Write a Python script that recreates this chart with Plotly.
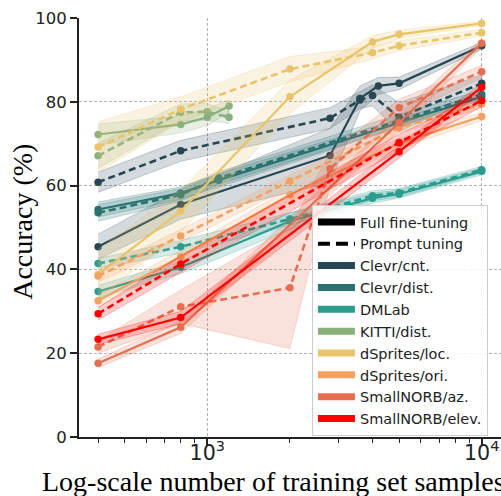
import plotly.graph_objects as go

# ---------------- data ----------------
dataset_names = ["Clevr/cnt.", "Clevr/dist.", "DMLab", "KITTI/dist.",
                 "dSprites/loc.", "dSprites/ori.", "SmallNORB/az.", "SmallNORB/elev."]
dataset_colors = ["#264653", "#287271", "#2a9d8f", "#8ab17d",
                  "#e9c46a", "#f4a261", "#e76f51", "#ff0000"]

# Clevr/cnt.
clevr_cnt_ft_n = [400, 800, 2800, 3600, 4200, 5000, 10000]
clevr_cnt_ft_acc = [45.4, 55.5, 67.2, 80.8, 83.8, 84.4, 93.4]
clevr_cnt_ft_std = [3.0, 3.5, 6.5, 3.0, 2.0, 1.5, 0.8]
clevr_cnt_pt_n = [400, 800, 2800, 3600, 4000, 5000, 10000]
clevr_cnt_pt_acc = [60.8, 68.3, 76.1, 80.4, 81.5, 76.3, 84.4]
clevr_cnt_pt_std = [2.4, 2.5, 2.5, 2.0, 2.5, 3.5, 2.0]

# Clevr/dist.
clevr_dist_ft_n = [400, 800, 1100, 10000]
clevr_dist_ft_acc = [54.3, 58.2, 61.3, 81.2]
clevr_dist_ft_std = [1.8, 1.5, 1.5, 0.8]
clevr_dist_pt_n = [400, 800, 1100, 5000, 10000]
clevr_dist_pt_acc = [53.5, 57.8, 61.8, 75.5, 81.8]
clevr_dist_pt_std = [2.0, 1.5, 1.5, 1.5, 1.0]

# DMLab
dmlab_ft_n = [400, 800, 2000, 4000, 5000, 10000]
dmlab_ft_acc = [34.7, 40.5, 51.5, 57.0, 58.0, 63.4]
dmlab_ft_std = [1.5, 1.5, 2.0, 1.2, 1.0, 0.8]
dmlab_pt_n = [400, 800, 2000, 4000, 5000, 10000]
dmlab_pt_acc = [41.4, 45.4, 52.0, 57.6, 58.3, 63.8]
dmlab_pt_std = [1.2, 1.5, 1.5, 1.2, 1.0, 0.8]

# KITTI/dist.
kitti_ft_n = [400, 800, 1000, 1200]
kitti_ft_acc = [72.2, 74.6, 76.3, 79.0]
kitti_ft_std = [2.5, 2.0, 2.0, 1.5]
kitti_pt_n = [400, 800, 1000, 1200]
kitti_pt_acc = [67.1, 77.5, 77.6, 76.3]
kitti_pt_std = [3.0, 2.0, 2.0, 1.5]

# dSprites/loc.
dspr_loc_ft_n = [400, 800, 2000, 4000, 5000, 10000]
dspr_loc_ft_acc = [38.8, 53.9, 81.2, 94.3, 96.1, 98.7]
dspr_loc_ft_std = [6.0, 5.0, 4.0, 1.5, 1.0, 0.5]
dspr_loc_pt_n = [400, 800, 2000, 4000, 5000, 10000]
dspr_loc_pt_acc = [69.2, 78.2, 87.8, 91.7, 93.4, 96.5]
dspr_loc_pt_std = [6.0, 3.0, 3.0, 1.5, 1.2, 0.8]

# dSprites/ori.
dspr_ori_ft_n = [400, 800, 2000, 5000, 10000]
dspr_ori_ft_acc = [32.5, 43.0, 57.8, 70.1, 76.5]
dspr_ori_ft_std = [1.5, 1.5, 1.5, 1.2, 1.0]
dspr_ori_pt_n = [400, 800, 2000, 5000, 10000]
dspr_ori_pt_acc = [38.4, 48.0, 61.1, 73.8, 79.5]
dspr_ori_pt_std = [1.5, 1.5, 1.5, 1.2, 1.0]

# SmallNORB/az.
norb_az_ft_n = [400, 800, 5000, 10000]
norb_az_ft_acc = [17.6, 26.2, 75.0, 94.0]
norb_az_ft_std = [1.0, 1.5, 2.0, 1.0]
norb_az_pt_n = [400, 800, 2000, 2800, 5000, 10000]
norb_az_pt_acc = [21.5, 31.1, 35.6, 64.0, 78.6, 87.2]
norb_az_pt_std = [1.5, 4.0, 14.5, 4.0, 2.0, 1.5]

# SmallNORB/elev.
norb_elev_ft_n = [400, 800, 5000, 10000]
norb_elev_ft_acc = [23.3, 28.5, 68.1, 83.5]
norb_elev_ft_std = [1.2, 1.5, 1.5, 1.0]
norb_elev_pt_n = [400, 800, 5000, 10000]
norb_elev_pt_acc = [29.4, 41.3, 70.3, 80.3]
norb_elev_pt_std = [1.5, 2.0, 2.0, 1.5]

y_ticks = [0, 20, 40, 60, 80, 100]

# (dataset index, prompt tuning?, n, acc, std)
series = [
    (0, False, clevr_cnt_ft_n, clevr_cnt_ft_acc, clevr_cnt_ft_std),
    (0, True, clevr_cnt_pt_n, clevr_cnt_pt_acc, clevr_cnt_pt_std),
    (1, False, clevr_dist_ft_n, clevr_dist_ft_acc, clevr_dist_ft_std),
    (1, True, clevr_dist_pt_n, clevr_dist_pt_acc, clevr_dist_pt_std),
    (2, False, dmlab_ft_n, dmlab_ft_acc, dmlab_ft_std),
    (2, True, dmlab_pt_n, dmlab_pt_acc, dmlab_pt_std),
    (3, False, kitti_ft_n, kitti_ft_acc, kitti_ft_std),
    (3, True, kitti_pt_n, kitti_pt_acc, kitti_pt_std),
    (4, False, dspr_loc_ft_n, dspr_loc_ft_acc, dspr_loc_ft_std),
    (4, True, dspr_loc_pt_n, dspr_loc_pt_acc, dspr_loc_pt_std),
    (5, False, dspr_ori_ft_n, dspr_ori_ft_acc, dspr_ori_ft_std),
    (5, True, dspr_ori_pt_n, dspr_ori_pt_acc, dspr_ori_pt_std),
    (6, False, norb_az_ft_n, norb_az_ft_acc, norb_az_ft_std),
    (6, True, norb_az_pt_n, norb_az_pt_acc, norb_az_pt_std),
    (7, False, norb_elev_ft_n, norb_elev_ft_acc, norb_elev_ft_std),
    (7, True, norb_elev_pt_n, norb_elev_pt_acc, norb_elev_pt_std),
]


def rgba(hex_color, alpha):
    h = hex_color.lstrip("#")
    r, g, b = int(h[0:2], 16), int(h[2:4], 16), int(h[4:6], 16)
    return f"rgba({r},{g},{b},{alpha})"


fig = go.Figure()

for idx, prompt, n, acc, std in series:
    color = dataset_colors[idx]
    upper = [a + s for a, s in zip(acc, std)]
    lower = [a - s for a, s in zip(acc, std)]
    # shaded std band
    fig.add_trace(go.Scatter(
        x=list(n) + list(n)[::-1],
        y=upper + lower[::-1],
        fill="toself",
        fillcolor=rgba(color, 0.2),
        line=dict(color=rgba(color, 0.25), width=1),
        mode="lines",
        hoverinfo="skip",
        showlegend=False,
    ))
    # mean curve
    fig.add_trace(go.Scatter(
        x=n, y=acc,
        mode="lines+markers",
        line=dict(color=color, width=2.6 if prompt else 2.2,
                  dash="7px,4px" if prompt else "solid"),
        marker=dict(color=color, size=7.5),
        showlegend=False,
        name=dataset_names[idx] + (" (prompt)" if prompt else " (full)"),
    ))

# legend entries
fig.add_trace(go.Scatter(x=[None], y=[None], mode="lines", name="Full fine-tuning",
                         line=dict(color="black", width=7)))
fig.add_trace(go.Scatter(x=[None], y=[None], mode="lines", name="Prompt tuning",
                         line=dict(color="black", width=4, dash="12px,6px")))
for name, color in zip(dataset_names, dataset_colors):
    fig.add_trace(go.Scatter(x=[None], y=[None], mode="lines", name=name,
                             line=dict(color=color, width=7)))

axis_color = "#222222"
grid_color = "#b0b0b0"

fig.update_layout(
    width=501, height=496,
    margin=dict(l=79, r=0, t=18, b=59),
    paper_bgcolor="white",
    plot_bgcolor="white",
    font=dict(family="DejaVu Sans", size=16.5, color="#222222"),
    showlegend=True,
    legend=dict(
        x=0.552, y=0.5537, xanchor="left", yanchor="top",
        bgcolor="rgba(255,255,255,0.85)",
        bordercolor="#cccccc", borderwidth=1,
        font=dict(family="DejaVu Sans", size=14.5, color="#222222"),
        tracegroupgap=0,
        itemwidth=37,
    ),
    xaxis=dict(
        type="log",
        range=[2.5324, 4.0703],
        dtick=1,
        exponentformat="power",
        showline=True, linecolor=axis_color, linewidth=2,
        ticks="outside", ticklen=6, tickwidth=1.5, tickcolor=axis_color,
        ticklabelstandoff=-9,
        showgrid=True, gridcolor=grid_color, gridwidth=1, griddash="3px,2px",
        zeroline=False,
        minor=dict(ticks="outside", ticklen=3.5, tickwidth=1, tickcolor=axis_color,
                   dtick="D1", showgrid=False),
        tickfont=dict(size=16.5),
    ),
    yaxis=dict(
        range=[0, 100],
        tickvals=y_ticks,
        showline=True, linecolor=axis_color, linewidth=2,
        ticks="outside", ticklen=7, tickwidth=1.5, tickcolor=axis_color,
        showgrid=True, gridcolor=grid_color, gridwidth=1, griddash="3px,2px",
        zeroline=False,
        tickfont=dict(size=16.5),
    ),
    annotations=[
        dict(text="Log-scale number of training set samples",
             xref="paper", yref="paper", x=(40 - 79) / 422, y=(437 - 481.5) / 419,
             xanchor="left", yanchor="middle", showarrow=False,
             font=dict(family="Liberation Serif", size=28, color="black")),
        dict(text="Accuracy (%)",
             xref="paper", yref="paper", x=(22.3 - 79) / 422, y=(437 - 221.5) / 419,
             xanchor="center", yanchor="middle", textangle=-90, showarrow=False,
             font=dict(family="Liberation Serif", size=28, color="black")),
    ],
)

fig.write_html("out.html")
